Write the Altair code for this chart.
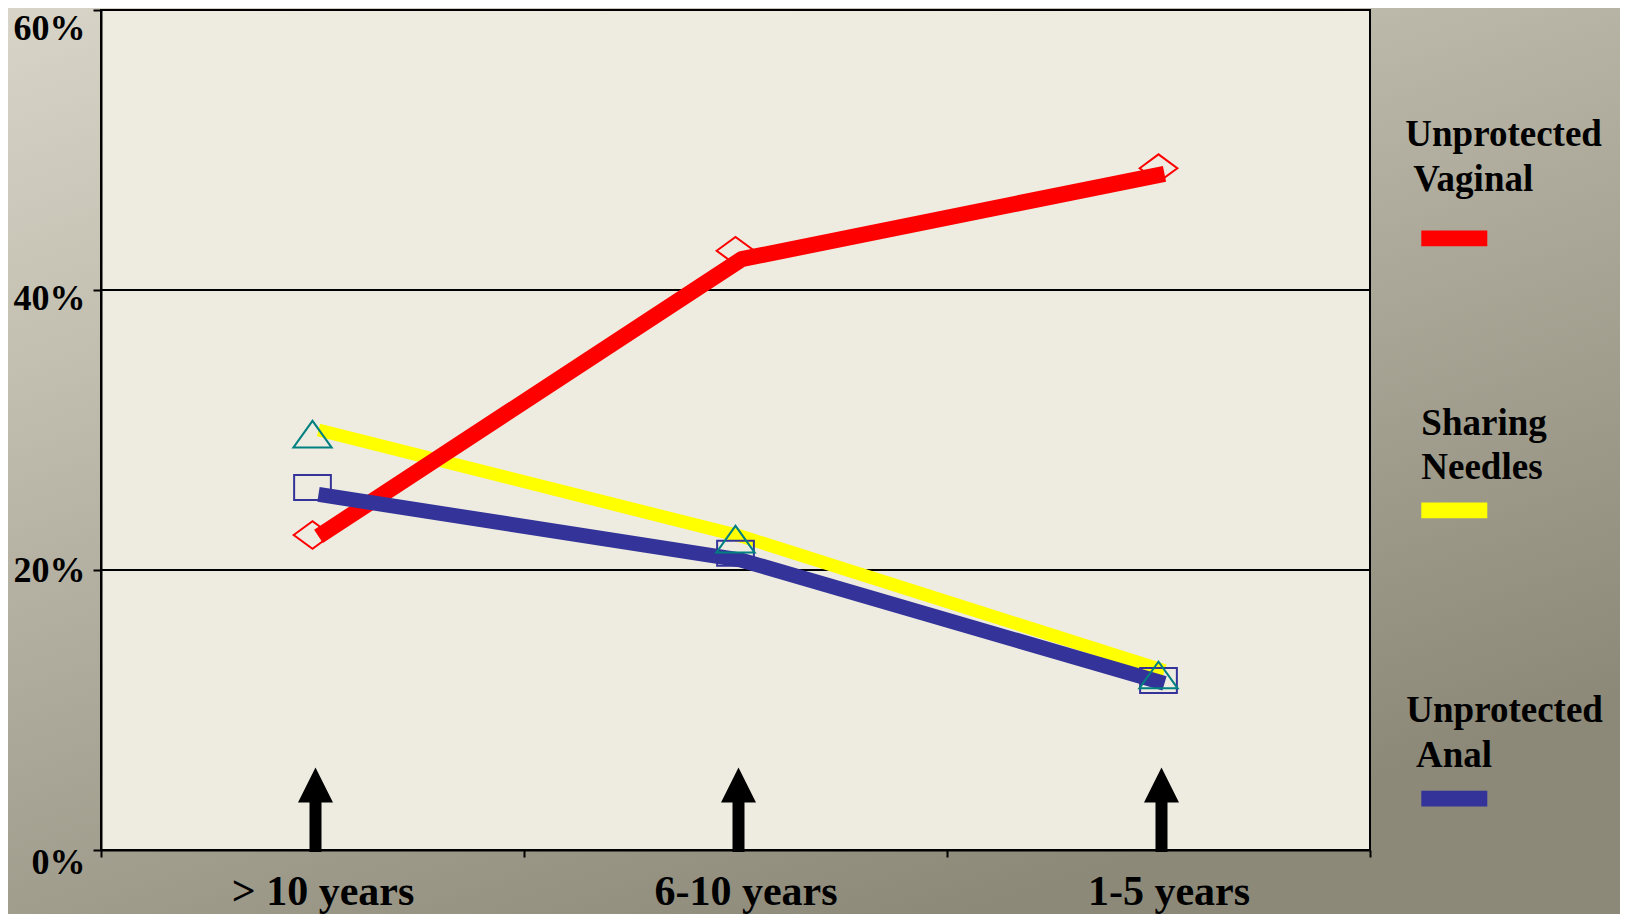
import altair as alt
import pandas as pd

# ---------------- data ----------------
categories = ["> 10 years", "6-10 years", "1-5 years"]
series_names = ["Unprotected Vaginal", "Sharing Needles", "Unprotected Anal"]

vaginal_line = [22.4, 42.2, 48.3]
needles_line = [30.0, 22.4, 12.8]
anal_line = [25.4, 20.7, 11.9]

vaginal_marker = [22.5, 42.8, 48.7]
needles_marker = [29.7, 22.2, 12.5]
anal_marker = [25.9, 21.2, 12.1]

y_ticks = [0, 20, 40, 60]
grid_values = [20, 40]
arrow_level = [2.87, 2.87, 2.87]

legend_rows = [["Unprotected", "Vaginal"], ["Sharing", "Needles"], ["Unprotected", "Anal"]]

# ---------------- layout / style ----------------
W, H = 1269, 840
PAD = {"left": 93, "top": 2, "right": 250, "bottom": 64}
FONT = "Liberation Serif"
PLOT_BG = "#EEECE1"
colors = {"Unprotected Vaginal": "#FF0000", "Sharing Needles": "#FFFF00", "Unprotected Anal": "#333399"}
widths = {"Unprotected Vaginal": 16, "Sharing Needles": 13, "Unprotected Anal": 15}
marker_paths = {
    "Unprotected Vaginal": "M-1,0L0,-0.735L1,0L0,0.735Z",
    "Sharing Needles": "M-1,0.697L0,-0.697L1,0.697Z",
    "Unprotected Anal": "M-1,-0.68L1,-0.68L1,0.68L-1,0.68Z",
}
marker_sizes = {"Unprotected Vaginal": 1420, "Sharing Needles": 1470, "Unprotected Anal": 1350}
marker_colors = {"Unprotected Vaginal": "#FF0000", "Sharing Needles": "#008080", "Unprotected Anal": "#333399"}

lines_vals = {"Unprotected Vaginal": vaginal_line, "Sharing Needles": needles_line, "Unprotected Anal": anal_line}
marker_vals = {"Unprotected Vaginal": vaginal_marker, "Sharing Needles": needles_marker, "Unprotected Anal": anal_marker}

one = pd.DataFrame({"a": [0]})

x_axis = alt.Axis(
    tickBand="extent", grid=False, domain=True, domainColor="black", domainWidth=2,
    ticks=True, tickColor="black", tickWidth=2, tickSize=7,
    labelFont=FONT, labelFontWeight="bold", labelFontSize=42, labelColor="black",
    labelBaseline="alphabetic", labelPadding=47, labelOffset=10, labelAngle=0,
    labelLimit=0, title=None, zindex=1,
)
y_axis = alt.Axis(
    values=y_ticks, labelExpr="datum.value + '%'", grid=False, domain=True,
    domainColor="black", domainWidth=2, ticks=True, tickColor="black", tickWidth=2,
    tickSize=8, labelFont=FONT, labelFontWeight="bold", labelFontSize=36,
    labelColor="black", labelPadding=8, labelBaseline="middle",
    labelOffset={"condition": [{"test": "datum.value == 20", "value": 0},
                               {"test": "datum.value == 40", "value": 8},
                               {"test": "datum.value == 60", "value": 18}],
                 "value": 12},
    labelLimit=0, title=None, zindex=1,
)

x_enc = alt.X("cat:N", sort=categories,
              scale=alt.Scale(type="band", paddingInner=0, paddingOuter=0),
              axis=x_axis, bandPosition=0.5)
y_scale = alt.Scale(domain=[0, 60], nice=False, zero=True)

# background gradient
bg = alt.Chart(one).mark_rect(
    fill=alt.LinearGradient(
        gradient="linear",
        stops=[alt.GradientStop(color="#D8D5C8", offset=0),
               alt.GradientStop(color="#B7B3A4", offset=0.45),
               alt.GradientStop(color="#8C8979", offset=1)],
        x1=0, y1=0, x2=0.6, y2=1,
    )
).encode(
    x=alt.value(-PAD["left"]), x2=alt.value(W + PAD["right"]),
    y=alt.value(-PAD["top"]), y2=alt.value(H + PAD["bottom"]),
)

plot_bg = alt.Chart(one).mark_rect(fill=PLOT_BG, stroke="black", strokeWidth=2).encode(
    x=alt.value(0), x2=alt.value(W), y=alt.value(0), y2=alt.value(H)
)

grid = alt.Chart(pd.DataFrame({"g": grid_values})).mark_rule(color="black", strokeWidth=2).encode(
    y=alt.Y("g:Q", scale=y_scale, axis=y_axis)
)

arrow_df = pd.DataFrame({"cat": categories, "v": arrow_level})
arrow_path = "M0,-1L0.414,-0.172L0.142,-0.172L0.142,1L-0.142,1L-0.142,-0.172L-0.414,-0.172Z"
arrows = alt.Chart(arrow_df).mark_point(
    shape=arrow_path, size=7140, filled=True, color="black", opacity=1, xOffset=3
).encode(x=x_enc, y=alt.Y("v:Q", scale=y_scale, axis=y_axis))

layers = [bg, plot_bg, grid, arrows]

# lines: yellow, red, blue (draw order)
for s in ["Sharing Needles", "Unprotected Vaginal", "Unprotected Anal"]:
    df = pd.DataFrame({"cat": categories, "v": lines_vals[s], "series": s})
    layers.append(
        alt.Chart(df).mark_line(color=colors[s], strokeWidth=widths[s], strokeJoin="round",
                                strokeCap="butt", xOffset=6)
        .encode(x=x_enc, y=alt.Y("v:Q", scale=y_scale, axis=y_axis))
    )

for s in ["Unprotected Vaginal", "Unprotected Anal", "Sharing Needles"]:
    df = pd.DataFrame({"cat": categories, "v": marker_vals[s], "series": s})
    layers.append(
        alt.Chart(df).mark_point(shape=marker_paths[s], size=marker_sizes[s], filled=False,
                                 stroke=marker_colors[s], strokeWidth=2, opacity=1)
        .encode(x=x_enc, y=alt.Y("v:Q", scale=y_scale, axis=y_axis))
    )

# legend (custom, to the right)
legend_text_pos = [
    [(1304.3, 136.3), (1312.3, 181.3)],
    [(1320.3, 425.3), (1320.3, 469.1)],
    [(1305.3, 712.4), (1315.0, 757.0)],
]
swatch_pos = [(220.6, 236.3), (492.6, 508.3), (780.7, 796.4)]
for i, s in enumerate(series_names):
    for txt, (tx, ty) in zip(legend_rows[i], legend_text_pos[i]):
        layers.append(
            alt.Chart(one).mark_text(text=txt, font=FONT, fontWeight="bold", fontSize=37,
                                     color="black", align="left", baseline="alphabetic")
            .encode(x=alt.value(tx), y=alt.value(ty))
        )
    y0, y1 = swatch_pos[i]
    layers.append(
        alt.Chart(one).mark_rect(color=colors[s])
        .encode(x=alt.value(1320.3), x2=alt.value(1386.3), y=alt.value(y0), y2=alt.value(y1))
    )

chart = alt.layer(*layers).properties(
    width=W, height=H, padding=PAD, autosize=alt.AutoSizeParams(type="none")
).configure_view(stroke=None)

chart.save("out.html", embed_options={"renderer": "svg", "actions": False})
